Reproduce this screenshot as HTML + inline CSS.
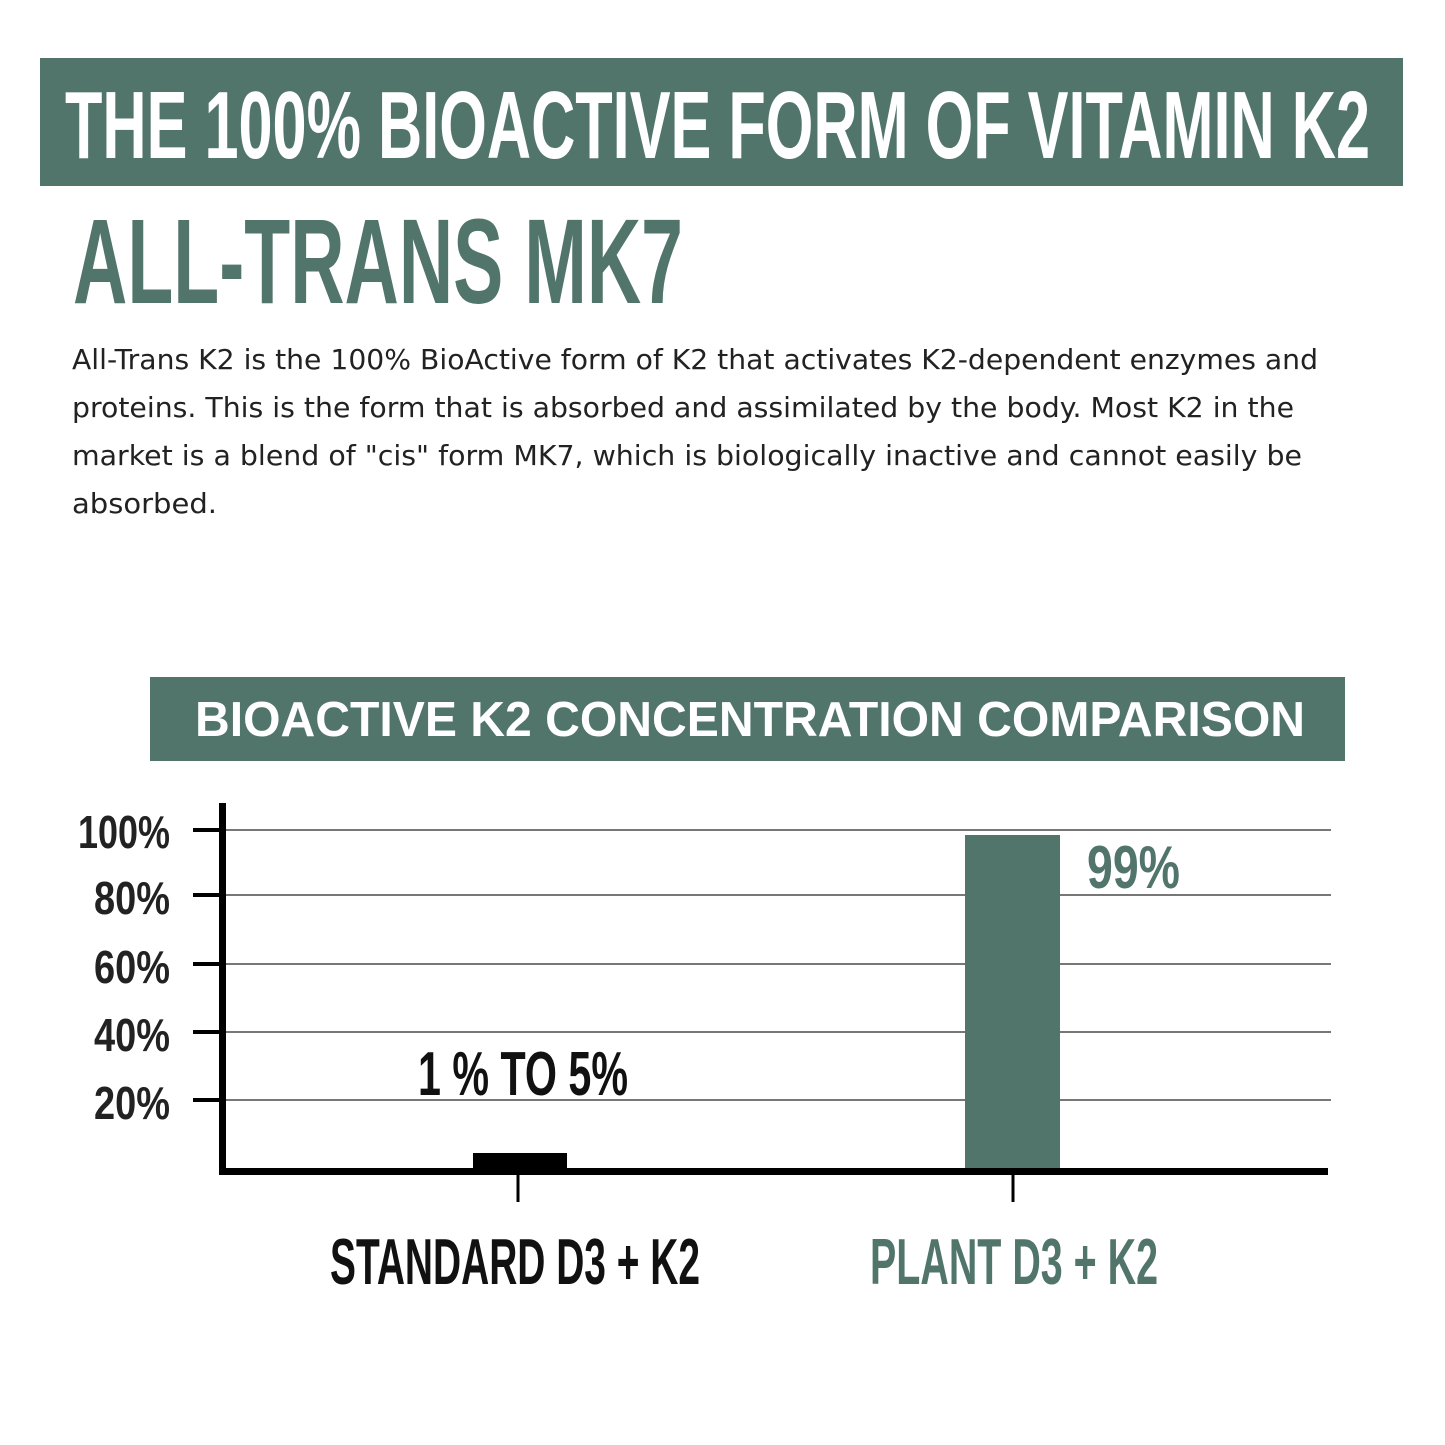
<!DOCTYPE html>
<html><head><meta charset="utf-8"><style>
html,body{margin:0;padding:0;background:#fff;}
svg{display:block;}
.c{font-family:"Liberation Sans",sans-serif;font-weight:bold;}
.p{font-family:"DejaVu Sans","Liberation Sans",sans-serif;font-size:28px;fill:#222;}
</style></head><body>
<svg width="1445" height="1445" viewBox="0 0 1445 1445" xmlns="http://www.w3.org/2000/svg">
<rect width="1445" height="1445" fill="#fff"/>
<rect x="40" y="58" width="1363" height="128" fill="#52756b"/>
<text class="c" x="65" y="158" font-size="96" fill="#fff" textLength="1305" lengthAdjust="spacingAndGlyphs">THE 100% BIOACTIVE FORM OF VITAMIN K2</text>
<text class="c" x="73" y="303" font-size="121" fill="#52756b" textLength="610" lengthAdjust="spacingAndGlyphs">ALL-TRANS MK7</text>
<text class="p" x="72" y="369" textLength="1246" lengthAdjust="spacingAndGlyphs">All-Trans K2 is the 100% BioActive form of K2 that activates K2-dependent enzymes and</text>
<text class="p" x="72" y="417" textLength="1222" lengthAdjust="spacingAndGlyphs">proteins. This is the form that is absorbed and assimilated by the body. Most K2 in the</text>
<text class="p" x="72" y="465" textLength="1230" lengthAdjust="spacingAndGlyphs">market is a blend of "cis" form MK7, which is biologically inactive and cannot easily be</text>
<text class="p" x="72" y="513" textLength="145" lengthAdjust="spacingAndGlyphs">absorbed.</text>
<rect x="150" y="677" width="1195" height="84" fill="#52756b"/>
<text class="c" x="195" y="736" font-size="49" fill="#fff" textLength="1110" lengthAdjust="spacingAndGlyphs">BIOACTIVE K2 CONCENTRATION COMPARISON</text>
<g stroke="#777" stroke-width="2">
<line x1="222" y1="830" x2="1331" y2="830"/>
<line x1="222" y1="895" x2="1331" y2="895"/>
<line x1="222" y1="964" x2="1331" y2="964"/>
<line x1="222" y1="1032" x2="1331" y2="1032"/>
<line x1="222" y1="1100" x2="1331" y2="1100"/>
</g>
<g stroke="#000" stroke-width="4">
<line x1="193" y1="830" x2="222" y2="830"/>
<line x1="193" y1="895" x2="222" y2="895"/>
<line x1="193" y1="964" x2="222" y2="964"/>
<line x1="193" y1="1032" x2="222" y2="1032"/>
<line x1="193" y1="1100" x2="222" y2="1100"/>
<line x1="518" y1="1172" x2="518" y2="1202" stroke-width="3"/>
<line x1="1013" y1="1172" x2="1013" y2="1202" stroke-width="3"/>
</g>
<rect x="473" y="1153" width="94" height="18" fill="#000"/>
<rect x="965" y="835" width="95" height="334" fill="#52756b"/>
<rect x="219" y="803" width="7" height="372" fill="#000"/>
<rect x="219" y="1168" width="1109" height="7" fill="#000"/>
<g class="c" font-size="46" fill="#222" text-anchor="end">
<text x="170" y="848" textLength="92" lengthAdjust="spacingAndGlyphs">100%</text>
<text x="170" y="914" textLength="76" lengthAdjust="spacingAndGlyphs">80%</text>
<text x="170" y="983" textLength="76" lengthAdjust="spacingAndGlyphs">60%</text>
<text x="170" y="1051" textLength="76" lengthAdjust="spacingAndGlyphs">40%</text>
<text x="170" y="1119" textLength="76" lengthAdjust="spacingAndGlyphs">20%</text>
</g>
<text class="c" x="418" y="1095" font-size="62" fill="#111" textLength="210" lengthAdjust="spacingAndGlyphs">1 % TO 5%</text>
<text class="c" x="1087" y="888" font-size="60" fill="#52756b" textLength="93" lengthAdjust="spacingAndGlyphs">99%</text>
<text class="c" x="330" y="1284" font-size="65" fill="#111" textLength="370" lengthAdjust="spacingAndGlyphs">STANDARD D3 + K2</text>
<text class="c" x="870" y="1284" font-size="65" fill="#52756b" textLength="288" lengthAdjust="spacingAndGlyphs">PLANT D3 + K2</text>
</svg>
</body></html>
